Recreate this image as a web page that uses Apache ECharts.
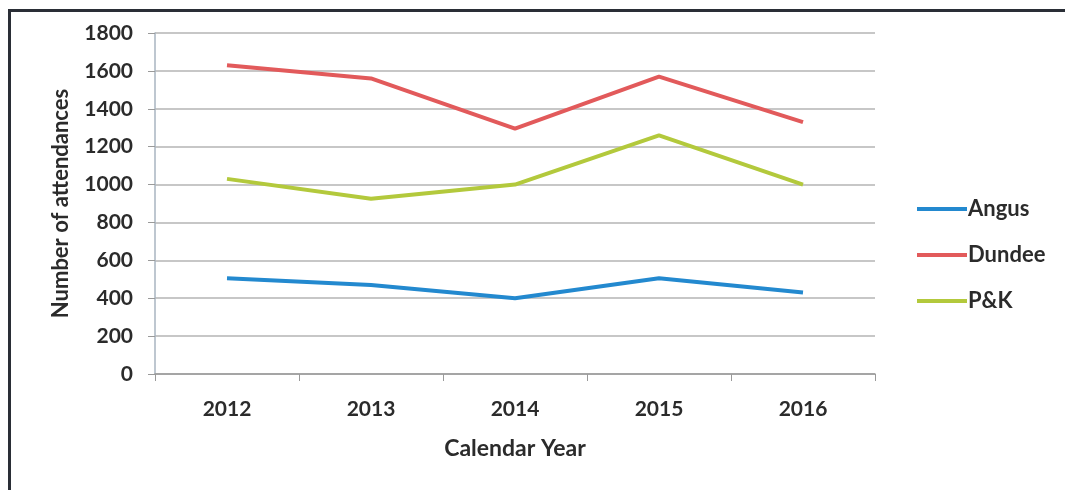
<!DOCTYPE html>
<html>
<head>
<meta charset="utf-8">
<script src="https://cdn.jsdelivr.net/npm/echarts@6/dist/echarts.min.js"></script>
<style>
  html, body { margin: 0; padding: 0; background: #ffffff; }
  #chart { width: 1065px; height: 490px; }
</style>
</head>
<body>
<div id="chart"></div>
<script>
// Attendances per calendar year by area
const years = ['2012', '2013', '2014', '2015', '2016'];
const angus = [505, 470, 400, 505, 430];
const dundee = [1630, 1560, 1295, 1570, 1330];
const pk = [1030, 925, 1000, 1260, 1000];
const yTicks = { min: 0, max: 1800, interval: 200 };

const FONT = 'Lato';
const TEXT = '#2b2b2b';
const GRID = '#b4b4b4';

const chart = echarts.init(document.getElementById('chart'), null, { renderer: 'canvas' });

function lineSeries(name, data, color) {
  return {
    name: name,
    type: 'line',
    data: data,
    symbol: 'none',
    lineStyle: { color: color, width: 4 },
    itemStyle: { color: color },
    emphasis: { disabled: true },
    animation: false
  };
}

chart.setOption({
  backgroundColor: '#ffffff',
  animation: false,
  grid: { left: 155, right: 190, top: 33, bottom: 116, containLabel: false },
  xAxis: {
    type: 'category',
    data: years,
    boundaryGap: true,
    name: 'Calendar Year',
    nameLocation: 'middle',
    nameGap: 63,
    nameTextStyle: { fontFamily: FONT, fontWeight: 'bold', fontSize: 23, color: TEXT },
    axisLine: { show: true, lineStyle: { color: '#9a9a9a', width: 1.5 } },
    axisTick: { show: true, length: 7, alignWithLabel: false, lineStyle: { color: '#9a9a9a' } },
    axisLabel: { margin: 25, fontFamily: FONT, fontWeight: 'bold', fontSize: 21, color: TEXT },
    splitLine: { show: false }
  },
  yAxis: {
    type: 'value',
    min: yTicks.min,
    max: yTicks.max,
    interval: yTicks.interval,
    name: 'Number of attendances',
    nameLocation: 'middle',
    nameGap: 83,
    nameRotate: 90,
    nameTextStyle: { fontFamily: FONT, fontWeight: 'bold', fontSize: 22, color: TEXT },
    axisLine: { show: true, lineStyle: { color: '#a8b4c0', width: 1.5 } },
    axisTick: { show: true, length: 7, lineStyle: { color: '#9a9a9a' } },
    axisLabel: {
      margin: 22, fontFamily: FONT, fontWeight: 'bold', fontSize: 21, color: TEXT,
      formatter: function (v) { return String(v); }
    },
    splitLine: { show: true, lineStyle: { color: GRID, width: 1.5 } }
  },
  legend: {
    orient: 'vertical',
    left: 912,
    top: 193,
    itemWidth: 50,
    itemHeight: 4,
    itemGap: 24,
    icon: 'rect',
    data: ['Angus', 'Dundee', 'P&K'],
    textStyle: { fontFamily: FONT, fontWeight: 'bold', fontSize: 22, lineHeight: 22, color: TEXT, padding: [0, 0, 0, -4] }
  },
  series: [
    lineSeries('Angus', angus, '#2389cf'),
    lineSeries('Dundee', dundee, '#e25a5b'),
    lineSeries('P&K', pk, '#b3c93c')
  ],
  graphic: [
    // frame around the chart area
    { type: 'rect', shape: { x: 8, y: 9, width: 1057, height: 3 }, style: { fill: '#2a2e36' }, silent: true },
    { type: 'rect', shape: { x: 8, y: 9, width: 3, height: 481 }, style: { fill: '#2a2e36' }, silent: true }
  ]
});
</script>
</body>
</html>
